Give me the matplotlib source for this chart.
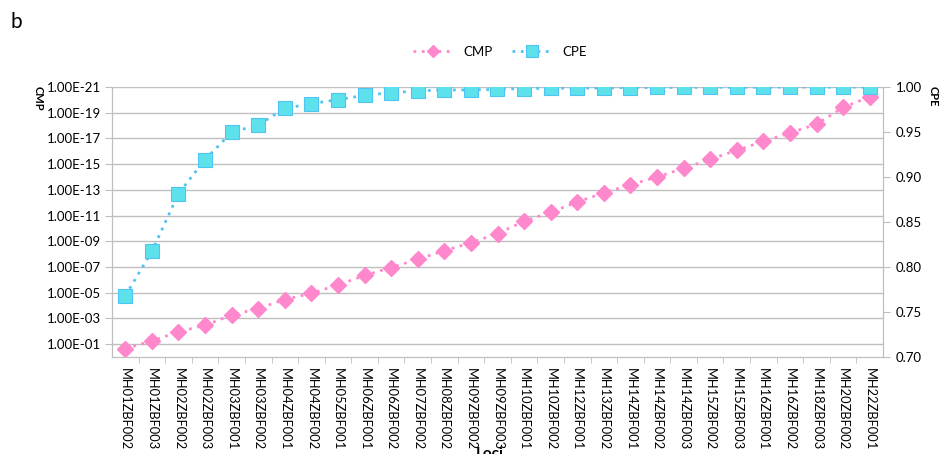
import numpy as np
import matplotlib
matplotlib.use('Agg')
import matplotlib.pyplot as plt
from matplotlib.ticker import FixedLocator, NullFormatter

plt.rcParams['font.family']= ['Lato', 'DejaVu Sans']

loci= ['MH01ZBF002', 'MH01ZBF003', 'MH02ZBF002', 'MH02ZBF003', 'MH03ZBF001', 'MH03ZBF002',
       'MH04ZBF001', 'MH04ZBF002', 'MH05ZBF001', 'MH06ZBF001', 'MH06ZBF002', 'MH07ZBF002',
       'MH08ZBF002', 'MH09ZBF002', 'MH09ZBF003', 'MH10ZBF001', 'MH10ZBF002', 'MH12ZBF001',
       'MH13ZBF002', 'MH14ZBF001', 'MH14ZBF002', 'MH14ZBF003', 'MH15ZBF002', 'MH15ZBF003',
       'MH16ZBF001', 'MH16ZBF002', 'MH18ZBF003', 'MH20ZBF002', 'MH22ZBF001']

cmp_vals= [2.2e-1, 5.6e-2, 1.1e-2, 3.4e-3, 5.5e-4, 1.7e-4, 3.4e-5, 1.1e-5, 2.5e-6, 4.5e-7,
           1.1e-7, 2.5e-8, 5.4e-9, 1.3e-9, 2.5e-10, 2.8e-11, 5.4e-12, 8.9e-13, 1.7e-13, 4.0e-14,
           1.0e-14, 2.1e-15, 4.2e-16, 8.3e-17, 1.7e-17, 3.7e-18, 7.8e-19, 3.9e-20, 5.8e-21]

cpe_vals= [0.768, 0.8174, 0.8815, 0.9193, 0.9497, 0.9578, 0.9763, 0.9815, 0.9859, 0.9908,
           0.9937, 0.9956, 0.9967, 0.9967, 0.9974, 0.9983, 0.9986, 0.9988, 0.9990, 0.9994,
           0.9995, 0.9996, 0.9997, 0.9998, 0.9998, 0.9999, 0.9999, 0.9999, 1.0000]

cmp_ticks= [10.0**-e for e in range(1, 22, 2)]
cpe_ticks= [0.70, 0.75, 0.80, 0.85, 0.90, 0.95, 1.00]

pink=	'#FF88CC'
cyan=	'#5DE2EC'
blue=	'#4FC3F2'
grid_c=	'#BFBFBF'

fig= plt.figure(figsize=(9.41, 4.54), dpi=100)
ax= fig.add_axes([112/941, 1-357/454, 771/941, 270/454])
ax2= ax.twinx()

x= np.arange(len(loci))
ax.set_yscale('log')
ax.set_ylim(1.0, 1e-21)
ax.set_xlim(-0.5, len(loci)-0.5)
ax.yaxis.set_major_locator(FixedLocator(cmp_ticks))
ax.yaxis.set_minor_locator(FixedLocator([]))
ax.set_yticklabels(['%.2E' % t for t in cmp_ticks])
ax.grid(axis='y', color=grid_c, lw=1)
ax.set_axisbelow(True)

ax.set_xticks(x)
ax.set_xticklabels(loci, rotation=270, fontsize=9.3)
ax.xaxis.set_minor_locator(FixedLocator(np.arange(0.5, len(loci)-0.5, 1)))
ax.tick_params(axis='x', which='major', length=0, pad=8)
ax.tick_params(axis='x', which='minor', length=4, color=grid_c, direction='out')
ax.tick_params(axis='y', length=5, color=grid_c, labelsize=9.5, pad=3)

l1,= ax.plot(x, cmp_vals, ls=(0, (1, 2)), lw=2, color=pink, marker='D', ms=8,
             mfc=pink, mec=pink, label='CMP', zorder=3)

ax2.set_ylim(0.70, 1.00)
ax2.set_yticks(cpe_ticks)
ax2.set_yticklabels(['%.2f' % t for t in cpe_ticks])
ax2.tick_params(axis='y', length=5, color=grid_c, labelsize=9.5, pad=4)
l2,= ax2.plot(x, cpe_vals, ls=(0, (1, 2)), lw=2, color=blue, marker='s', ms=10,
              mfc=cyan, mec=blue, mew=0.8, label='CPE', zorder=3)

for a in (ax, ax2):
	a.spines['top'].set_visible(False)
	for s in ('left', 'right', 'bottom'):
		a.spines[s].set_color(grid_c)

fig.text(38/941, 1-86/454, 'CMP', rotation=270, fontsize=8, fontweight='bold', ha='center', va='top')
fig.text(933/941, 1-86/454, 'CPE', rotation=270, fontsize=8, fontweight='bold', ha='center', va='top')
fig.text(10/941, 1-22/454, 'b', fontsize=15, ha='left', va='center')
fig.text(490/941, 1-447/454, 'Loci', fontsize=11, fontweight='bold', ha='center', va='top')

fig.legend([l1, l2], ['CMP', 'CPE'], loc='center', bbox_to_anchor=(500/941, 1-52/454), ncol=2,
           frameon=False, fontsize=9.5, handlelength=3, columnspacing=1.5, markerscale=0.8)

fig.savefig('out.png', dpi=100)
